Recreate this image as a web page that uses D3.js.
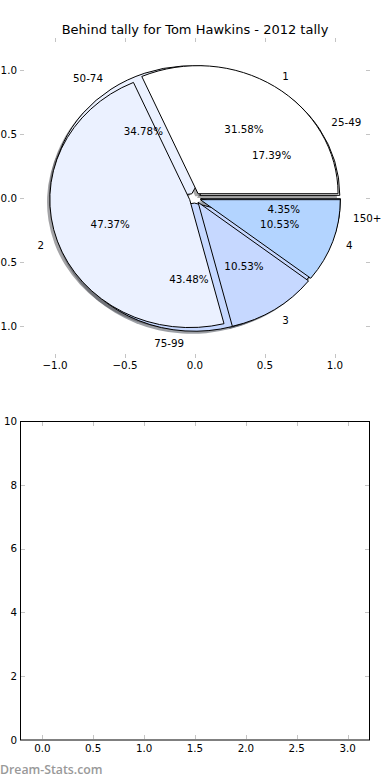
<!DOCTYPE html>
<html>
<head>
<meta charset="utf-8">
<script src="https://cdn.jsdelivr.net/npm/d3@7"></script>
<style>
html,body{margin:0;padding:0;background:#fff;}
svg{display:block;}
text{font-family:"DejaVu Sans",sans-serif;fill:#000;}
</style>
</head>
<body>
<svg id="chart" width="390" height="780"></svg>
<script>
// ---- data ----
const title = "Behind tally for Tom Hawkins - 2012 tally";
const tallyLabels = ["1", "2", "3", "4"];
const tallyValues = [6, 9, 2, 2];
const rangeLabels = ["25-49", "50-74", "75-99", "150+"];
const rangeValues = [4, 8, 10, 1];
const sliceColors = ["#ffffff", "#ebf1ff", "#c6d8ff", "#b3d4ff"];
const pieTicks = [-1.0, -0.5, 0.0, 0.5, 1.0];
const lowerXTicks = [0.0, 0.5, 1.0, 1.5, 2.0, 2.5, 3.0];
const lowerYTicks = [0, 2, 4, 6, 8, 10];
const watermark = "Dream-Stats.com";

const svg = d3.select("#chart");
const explode = 0.04;
const tickColor = "#c4c4c4";

// ---- pie axes ----
const px = d3.scaleLinear().domain([-1.25, 1.25]).range([20, 370]);
const py = d3.scaleLinear().domain([-1.25, 1.25]).range([358, 38]);
const sx = px(1) - px(0), sy = py(0) - py(1);

svg.append("text").attr("x", 195).attr("y", 34).attr("text-anchor", "middle")
  .style("font-size", "13px").text(title);

const pieGen = d3.pie().sort(null).startAngle(Math.PI / 2).endAngle(Math.PI / 2 - 2 * Math.PI);
const arcGen = d3.arc().innerRadius(0).outerRadius(1);
const fmtPct = d3.format(".2f");

const pies = [
  {labels: rangeLabels, values: rangeValues},
  {labels: tallyLabels, values: tallyValues}
];
pies.forEach(p => {
  const tot = d3.sum(p.values);
  p.arcs = pieGen(p.values).map((a, i) => {
    const m = (a.startAngle + a.endAngle) / 2;
    return Object.assign(a, {m, ux: Math.sin(m), uy: Math.cos(m), label: p.labels[i],
      color: sliceColors[i], pct: fmtPct(100 * a.value / tot) + "%"});
  });
});

const pieG = svg.append("g").attr("transform", `translate(${px(0)},${py(0)}) scale(${sx},${sy})`);

function shadowColor(c) {
  const r = d3.rgb(c);
  return d3.rgb(r.r * 0.3, r.g * 0.3, r.b * 0.3).toString();
}
// shadows (below all wedges)
pies.forEach(p => {
  pieG.append("g").selectAll("path").data(p.arcs).join("path")
    .attr("d", arcGen)
    .attr("transform", d => `translate(${explode * d.ux - 0.02},${-explode * d.uy + 0.02})`)
    .attr("fill", d => shadowColor(d.color)).attr("fill-opacity", 0.5);
});
// wedges
pies.forEach(p => {
  pieG.append("g").selectAll("path").data(p.arcs).join("path")
    .attr("d", arcGen)
    .attr("transform", d => `translate(${explode * d.ux},${-explode * d.uy})`)
    .attr("fill", d => d.color).attr("stroke", "#000").attr("stroke-width", 1)
    .attr("stroke-linejoin", "miter")
    .attr("vector-effect", "non-scaling-stroke");
});
// texts
pies.forEach(p => {
  const g = svg.append("g").style("font-size", "10.3px");
  g.selectAll("text.lab").data(p.arcs).join("text").attr("class", "lab")
    .attr("x", d => px((explode + 1.1) * d.ux))
    .attr("y", d => py((explode + 1.1) * d.uy))
    .attr("dy", "0.36em")
    .attr("text-anchor", d => d.ux > 0 ? "start" : "end")
    .text(d => d.label);
  g.selectAll("text.pct").data(p.arcs).join("text").attr("class", "pct")
    .attr("x", d => px((explode + 0.6) * d.ux))
    .attr("y", d => py((explode + 0.6) * d.uy))
    .attr("dy", "0.36em")
    .attr("text-anchor", "middle")
    .text(d => d.pct);
});

// pie axis ticks
const fmt1 = d3.format(".1f");
const tg = svg.append("g").attr("stroke", tickColor).attr("stroke-width", 1);
pieTicks.forEach(t => {
  const x = Math.round(px(t)) + 0.5, y = Math.round(py(t)) + 0.5;
  tg.append("line").attr("x1", x).attr("x2", x).attr("y1", 38).attr("y2", 42);
  tg.append("line").attr("x1", x).attr("x2", x).attr("y1", 358).attr("y2", 354);
  tg.append("line").attr("y1", y).attr("y2", y).attr("x1", 20).attr("x2", 24);
  tg.append("line").attr("y1", y).attr("y2", y).attr("x1", 370).attr("x2", 366);
});
const tl = svg.append("g").style("font-size", "10.3px");
pieTicks.forEach(t => {
  tl.append("text").attr("x", px(t)).attr("y", 369).attr("text-anchor", "middle").text(fmt1(t));
  tl.append("text").attr("x", 17).attr("y", py(t) + 3.7).attr("text-anchor", "end").text(fmt1(t));
});

// ---- lower empty axes ----
const lx = d3.scaleLinear().domain([-0.22, 3.22]).range([20, 370]);
const ly = d3.scaleLinear().domain([0, 10]).range([740, 421]);
const lg = svg.append("g");
lg.append("rect").attr("x", 20.5).attr("y", 421.5).attr("width", 349).attr("height", 318.5)
  .attr("fill", "none").attr("stroke", "#000").attr("stroke-width", 1);
const ltg = lg.append("g").attr("stroke", tickColor).attr("stroke-width", 1);
lowerXTicks.forEach(t => {
  const x = Math.round(lx(t)) + 0.5;
  ltg.append("line").attr("x1", x).attr("x2", x).attr("y1", 422).attr("y2", 426);
  ltg.append("line").attr("x1", x).attr("x2", x).attr("y1", 739).attr("y2", 735);
  lg.append("text").attr("x", lx(t)).attr("y", 752).attr("text-anchor", "middle")
    .style("font-size", "10.3px").text(fmt1(t));
});
lowerYTicks.forEach(t => {
  const y = Math.round(ly(t)) + 0.5;
  if (t !== 0 && t !== 10) {
    ltg.append("line").attr("y1", y).attr("y2", y).attr("x1", 21).attr("x2", 25);
    ltg.append("line").attr("y1", y).attr("y2", y).attr("x1", 369).attr("x2", 365);
  }
  lg.append("text").attr("x", 17).attr("y", ly(t) + 3.7).attr("text-anchor", "end")
    .style("font-size", "10.3px").text(d3.format("d")(t));
});

svg.append("text").attr("x", 0).attr("y", 774).style("font-family", "'Open Sans',sans-serif")
  .style("font-weight", 600).style("font-size", "12.3px").style("fill", "#999999").text(watermark);
</script>
</body>
</html>
